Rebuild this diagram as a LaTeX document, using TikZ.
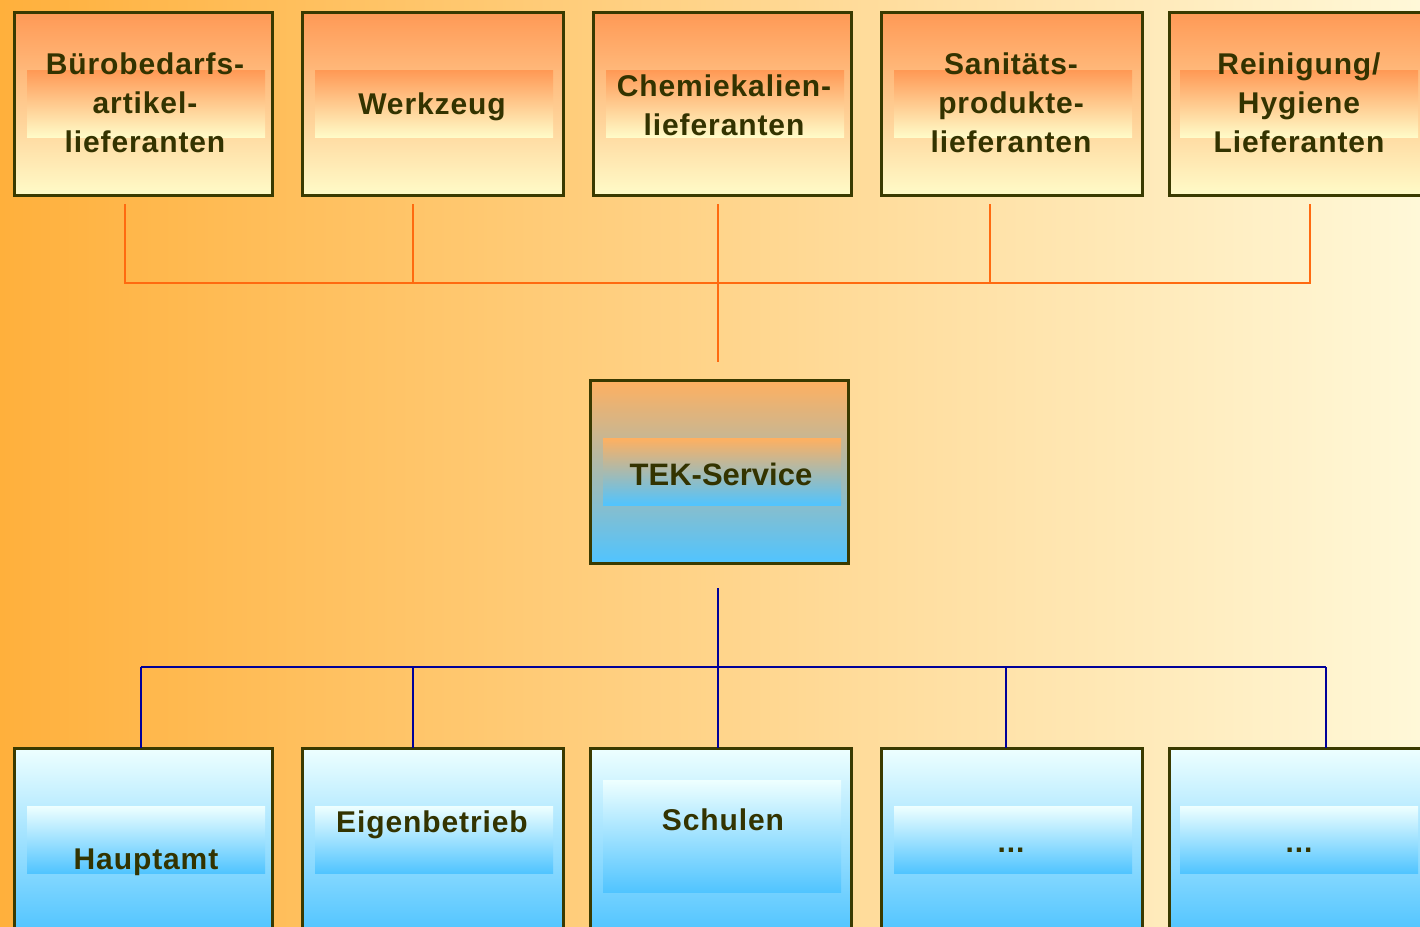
\documentclass[tikz,border=0pt]{standalone}
\usepackage{fontspec}
\setmainfont{Liberation Sans}
\newfontfamily\boxfont[LetterSpace=3]{Liberation Sans}
\definecolor{bgL}{HTML}{FFB03C}
\definecolor{bgR}{HTML}{FFF8D8}
\definecolor{boxborder}{HTML}{3A3A00}
\definecolor{txt}{HTML}{333300}
\definecolor{orA}{HTML}{FF9955}
\definecolor{orB}{HTML}{FFFBC8}
\definecolor{orM}{HTML}{FFC890}
\definecolor{blA}{HTML}{EEFFFF}
\definecolor{blB}{HTML}{50C4FF}
\definecolor{blM}{HTML}{A8E2FF}
\definecolor{tekA}{HTML}{FFB060}
\definecolor{tekM}{HTML}{D2B8A8}
\definecolor{orline}{HTML}{FF6A10}
\definecolor{blline}{HTML}{000099}
\begin{document}
\begin{tikzpicture}[x=1pt,y=-1pt,
  topbox/.style={draw=boxborder, line width=3pt, top color=orA, middle color=orM, bottom color=orB, minimum width=#1, minimum height=183pt, inner sep=0pt, outer sep=0pt, anchor=north west},
  topband/.style={top color=orA, middle color=orB!80!orA, bottom color=orB, minimum width=238pt, minimum height=67pt, inner sep=0pt, anchor=north west},
  botbox/.style={draw=boxborder, line width=3pt, top color=blA, middle color=blM, bottom color=blB, minimum width=#1, minimum height=185pt, inner sep=0pt, outer sep=0pt, anchor=north west},
  botband/.style={top color=blA, middle color=blM, bottom color=blB, minimum width=238pt, minimum height=#1, inner sep=0pt, anchor=north west},
  lbl/.style={text=txt, font=\boxfont\bfseries\fontsize{30}{39}\selectfont, align=center, inner sep=0pt},
  orl/.style={draw=orline, line width=2.6pt},
  bll/.style={draw=blline, line width=2.6pt}
]
\useasboundingbox (0,0) rectangle (1420,926);
\clip (0,0) rectangle (1420,926);
\shade[left color=bgL, right color=bgR] (0,0) rectangle (1420,926);

% top boxes
\node[topbox=258pt] (t1) at (14,12) {};
\node[topbox=261pt] (t2) at (302,12) {};
\node[topbox=258pt] (t3) at (593,12) {};
\node[topbox=261pt] (t4) at (881,12) {};
\node[topbox=261pt] (t5) at (1169,12) {};
\node[topband] (t1b) at (27,70) {};
\node[topband] (t2b) at (315,70) {};
\node[topband] (t3b) at (606,70) {};
\node[topband] (t4b) at (894,70) {};
\node[topband] (t5b) at (1180,70) {};
\node[lbl] (t1x) at (145,103) {Bürobedarfs-\\artikel-\\lieferanten};
\node[lbl] (t2x) at (432,107) {Werkzeug};
\node[lbl] (t3x) at (724,105) {Chemiekalien-\\lieferanten};
\node[lbl] (t4x) at (1011,103) {Sanitäts-\\produkte-\\lieferanten};
\node[lbl] (t5x) at (1299,103) {Reinigung/\\Hygiene\\Lieferanten};

% middle box
\node[draw=boxborder, line width=3pt, top color=tekA, middle color=tekM, bottom color=blB, minimum width=258pt, minimum height=183pt, inner sep=0pt, outer sep=0pt, anchor=north west] (tek) at (590,380) {};
\node[top color=tekA, middle color=tekM!70!blB, bottom color=blB, minimum width=238pt, minimum height=67pt, inner sep=0pt, anchor=north west] (tekb) at (603,438) {};
\node[lbl, font=\bfseries\fontsize{31}{39}\selectfont] (tekx) at (721,474) {TEK-Service};

% bottom boxes
\node[botbox=258pt] (b1) at (14,748) {};
\node[botbox=261pt] (b2) at (302,748) {};
\node[botbox=261pt] (b3) at (590,748) {};
\node[botbox=261pt] (b4) at (881,748) {};
\node[botbox=261pt] (b5) at (1169,748) {};
\node[botband=67pt] (b1b) at (27,806) {};
\node[botband=67pt] (b2b) at (315,806) {};
\node[botband=112pt] (b3b) at (603,780) {};
\node[botband=67pt] (b4b) at (894,806) {};
\node[botband=67pt] (b5b) at (1180,806) {};
\node[lbl] (b1x) at (146,862) {Hauptamt};
\node[lbl] (b2x) at (432,825) {Eigenbetrieb};
\node[lbl] (b3x) at (723,820) {Schulen};
\node[lbl] (b4x) at (1011,850) {...};
\node[lbl] (b5x) at (1299,850) {...};

% orange connectors
\coordinate (o1) at (125,204); \coordinate (o1j) at (125,283);
\coordinate (o2) at (413,204); \coordinate (o2j) at (413,283);
\coordinate (o3) at (718,204); \coordinate (o3j) at (718,283);
\coordinate (o4) at (990,204); \coordinate (o4j) at (990,283);
\coordinate (o5) at (1310,204); \coordinate (o5j) at (1310,283);
\coordinate (otek) at (718,362);
\draw[orl] (o1) -- (o1j) -- (o5j) -- (o5);
\draw[orl] (o2) -- (o2j);
\draw[orl] (o3) -- (otek);
\draw[orl] (o4) -- (o4j);

% blue connectors
\coordinate (btek) at (718,588); \coordinate (bj) at (718,667);
\coordinate (bj1) at (141,667); \coordinate (bj2) at (413,667);
\coordinate (bj4) at (1006,667); \coordinate (bj5) at (1326,667);
\draw[bll] (btek) -- (bj);
\draw[bll] (bj1) -- (bj5);
\draw[bll] (bj1) -- (bj1 |- b1.north);
\draw[bll] (bj2) -- (bj2 |- b2.north);
\draw[bll] (bj) -- (bj |- b3.north);
\draw[bll] (bj4) -- (bj4 |- b4.north);
\draw[bll] (bj5) -- (bj5 |- b5.north);
\end{tikzpicture}
\end{document}
